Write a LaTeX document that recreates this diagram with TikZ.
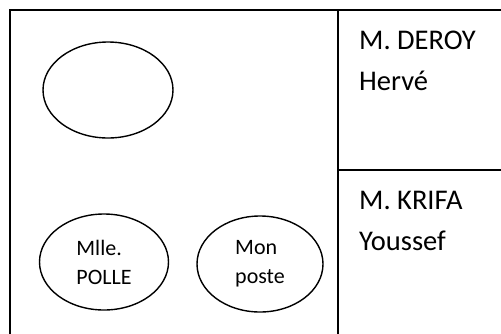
\documentclass[tikz,border=0pt]{standalone}
\usepackage{fontspec}
\setmainfont{Carlito}
\usetikzlibrary{shapes.geometric, positioning}
\tikzset{
  wall/.style={line width=2pt},
  desk/.style={
    draw, ellipse, line width=1.4pt, minimum width=130pt, minimum height=96pt,
    inner sep=0pt, font=\fontsize{22}{29}\selectfont, align=left
  },
  nametag/.style={anchor=north west, inner sep=0pt, font=\fontsize{28.5}{41}\selectfont, align=left}
}

\begin{document}
\begin{tikzpicture}[x=1pt, y=-1pt]
  \useasboundingbox (0,0) rectangle (501,333);
  \clip (0,0) rectangle (501,333);
  % room and partitions
  \draw[wall] (10,10) rectangle (520,350);
  \draw[wall] (338,10) -- (338,350);
  \draw[wall] (338,170) -- (520,170);
  % desks
  \node[desk] (empty) at (108,90) {};
  \node[desk, minimum width=129pt] (polle) at (104,262) {Mlle.\\POLLE};
  \node[desk, minimum width=126pt] (poste) at (260,264) {Mon\\poste};
  % offices
  \node[nametag] (deroy) at (359,31) {M. DEROY\\Hervé};
  \node[nametag] (krifa) at (359,191) {M. KRIFA\\Youssef};
\end{tikzpicture}
\end{document}
